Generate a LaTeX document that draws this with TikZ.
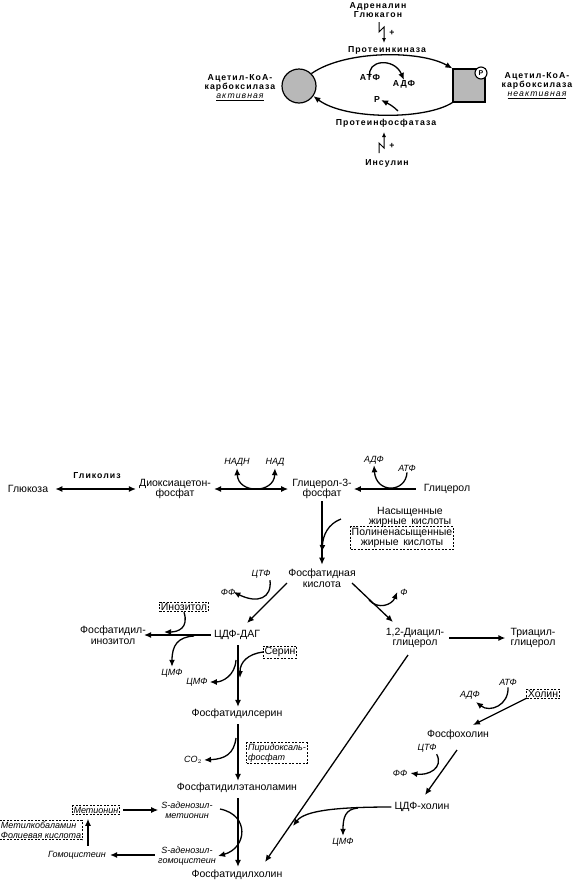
\documentclass[tikz,border=0pt]{standalone}
\usepackage{fontspec}
\setmainfont{Liberation Sans}
\newfontfamily\wideb[LetterSpace=12]{Liberation Sans}
\usetikzlibrary{arrows.meta}
\tikzset{
  lbl/.style={align=center, inner sep=0pt, font=\fontsize{10.5}{10.5}\selectfont},
  itl/.style={align=center, inner sep=0pt, font=\fontsize{9}{10}\selectfont\itshape},
  bt/.style={align=center, inner sep=0pt, font=\wideb\bfseries\fontsize{8.7}{9}\selectfont},
  ar/.style={line width=1.3pt, -{Latex[length=7pt,width=6pt]}},
  dar/.style={line width=1.3pt, {Latex[length=7pt,width=6pt]}-{Latex[length=7pt,width=6pt]}},
  dbox/.style={draw, dash pattern=on 2pt off 1.5pt, line width=0.8pt, inner sep=1.2pt},
  enz/.style={fill=black!28, draw, line width=1.2pt}
}
\begin{document}
\begin{tikzpicture}[x=1pt,y=-1pt]
\useasboundingbox (0,0) rectangle (573,884);
% ================= top diagram =================
\node[bt] (adr) at (378,10) {Адреналин\\Глюкагон};
\node[bt] (pk) at (387,50) {Протеинкиназа};
\node[bt] (pp) at (386,123) {Протеинфосфатаза};
\node[bt] (ins) at (387,163) {Инсулин};
\node[bt] (acl) at (240,88) {Ацетил-КоА-\\карбоксилаза\\{\mdseries\itshape\underline{активная}}};
\node[bt] (acr) at (537,86) {Ацетил-КоА-\\карбоксилаза\\{\mdseries\itshape\underline{неактивная}}};
\node[bt] (atp0) at (370,78) {АТФ};
\node[bt] (adp0) at (404,84) {АДФ};
\node[bt] (p0) at (377,100) {Р};
\node[enz, circle, minimum size=34pt, inner sep=0pt] (act) at (299,86) {};
\node[enz, rectangle, minimum width=32pt, minimum height=33pt, inner sep=0pt] (inact) at (469,85.5) {};
\node[circle, draw, fill=white, line width=1.1pt, minimum size=12pt, inner sep=0pt, font=\bfseries\fontsize{7}{7}\selectfont] (pc0) at (481,73) {P};
\node[bt] (plus1) at (392,33) {+};
\node[bt] (plus2) at (392,146) {+};
% lightning bolts
\coordinate (b1a) at (379,22); \coordinate (b1b) at (384,43);
\draw[line width=1pt, -{Latex[length=5pt,width=4pt]}] (b1a) -- (379,32) -- (384,27) -- (b1b);
\coordinate (b2a) at (379,153); \coordinate (b2b) at (384,132);
\draw[line width=1pt, -{Latex[length=5pt,width=4pt]}] (b2a) -- (379,143) -- (384,148) -- (b2b);
% arcs
\draw[ar] (act.45) .. controls (345,50) and (420,50) .. (inact.north west);
\draw[ar] (inact.south west) .. controls (425,120) and (345,120) .. (act.-35);
\draw[ar] ([yshift=-2pt]atp0.north) .. controls (366,60) and (394,57) .. (adp0.north);
\draw[ar] (398,111) .. controls (393,106) and (389,104) .. ([xshift=1pt]p0.east);
% ================= bottom diagram =================
\node[lbl] (glu) at (28,489) {Глюкоза};
\node[bt] (gly) at (97,476) {Гликолиз};
\node[lbl] (dhap) at (175,489) {Диоксиацетон-\\фосфат};
\node[lbl] (g3p) at (322,489) {Глицерол-3-\\фосфат};
\node[lbl] (glyc) at (447,489) {Глицерол};
\node[itl] (nadh) at (237,462) {НАДН};
\node[itl] (nad) at (275,462) {НАД};
\node[itl] (adp1) at (374,460) {АДФ};
\node[itl] (atp1) at (407,468) {АТФ};
\node[lbl] (sfa) at (410,517) {Насыщенные\\жирные\, кислоты};
\node[lbl, dbox] (pufa) at (402,538) {Полиненасыщенные\\жирные\, кислоты};
\node[lbl] (pa) at (322,578) {Фосфатидная\\кислота};
\node[itl] (ctp1) at (261,574) {ЦТФ};
\node[itl] (ff1) at (228,592) {ФФ};
\node[itl] (phi) at (404,592) {Ф};
\node[lbl] (cdpdag) at (237,635) {ЦДФ-ДАГ};
\node[lbl] (dag) at (415,638) {1,2-Диацил-\\глицерол};
\node[lbl] (tag) at (533,638) {Триацил-\\глицерол};
\node[lbl] (pi) at (113,635) {Фосфатидил-\\инозитол};
\node[lbl, dbox] (ino) at (184,607) {Инозитол};
\node[itl] (cmp1) at (172,673) {ЦМФ};
\node[itl] (cmp2) at (197,682) {ЦМФ};
\node[lbl, dbox] (ser) at (280,652) {Серин};
\node[lbl] (ps) at (237,714) {Фосфатидилсерин};
\node[itl] (co2) at (193,760) {CO$_2$};
\node[itl, dbox, align=left] (plp) at (277,753) {Пиридоксаль-\\фосфат\hspace*{2.2em}};
\node[lbl] (pe) at (237,788) {Фосфатидилэтаноламин};
\node[itl] (sam) at (187,810) {S-аденозил-\\метионин};
\node[itl] (sah) at (187,856) {S-аденозил-\\гомоцистеин};
\node[itl, dbox] (met) at (96,810) {Метионин};
\node[itl, dbox, align=left] (b12) at (41,830) {Метилкобаламин\\Фолиевая кислота};
\node[itl] (hcy) at (77,855) {Гомоцистеин};
\node[lbl] (pc) at (237,875) {Фосфатидилхолин};
\node[lbl, dbox] (chol) at (543,694) {Холин};
\node[itl] (atp2) at (508,682) {АТФ};
\node[itl] (adp2) at (470,695) {АДФ};
\node[lbl] (pcho) at (458,735) {Фосфохолин};
\node[itl] (ctp2) at (427,748) {ЦТФ};
\node[itl] (ff2) at (400,773) {ФФ};
\node[lbl] (cdpcho) at (422,807) {ЦДФ-холин};
\node[itl] (cmp3) at (343,842) {ЦМФ};
% --- connectors ---
\draw[dar] ([xshift=7pt]glu.east) -- ([xshift=-3pt]dhap.west);
\draw[dar] ([xshift=3pt]dhap.east) -- ([xshift=-4pt]g3p.west);
\draw[dar] ([yshift=-2pt]nadh.south) .. controls (238,494) and (274,494) .. ([yshift=-2pt]nad.south);
\draw[ar] ([xshift=-8pt]glyc.west) -- ([xshift=2pt]g3p.east);
\draw[ar] ([yshift=-1pt]atp1.south) .. controls (406,493) and (376,494) .. ([yshift=-1pt]adp1.south);
\draw[ar] ([yshift=-2pt]g3p.south) -- ([yshift=4pt]pa.north);
\coordinate (sfa0) at (341,519);
\draw[ar] (sfa0) .. controls (328,524) and (323,535) .. (322,552);
% PA -> CDP-DAG
\coordinate (pa1) at (287,583); \coordinate (cd1) at (247,623);
\draw[ar] (pa1) -- (cd1);
\draw[ar] ([yshift=-2pt]ctp1.south -| 270,0) .. controls (272,598) and (258,604) .. ([xshift=-2pt]ff1.east);
% PA -> DAG
\coordinate (pa2) at (352,583); \coordinate (dg1) at (393,622);
\draw[ar] (pa2) -- (dg1);
\draw[ar] (369,600) .. controls (378,610) and (392,605) .. ([xshift=-3pt]phi.west);
% CDP-DAG -> PI
\draw[ar] ([xshift=-3pt]cdpdag.west) -- ([xshift=-2pt]pi.east |- cdpdag.west);
\draw[ar] (ino.south) .. controls (189,628) and (178,632) .. (164,632);
\draw[ar] (194,636) .. controls (178,637) and (172,645) .. ([yshift=2pt]cmp1.north);
% CDP-DAG -> PS
\draw[ar] (238,645) -- ([yshift=2pt]ps.north -| 238,0);
\draw[ar] (ser.west) .. controls (248,654) and (240,662) .. (240,678);
\draw[ar] (236,660) .. controls (235,676) and (222,682) .. ([xshift=2pt]cmp2.east);
% PS -> PE
\draw[ar] (238,724) -- ([yshift=2pt]pe.north -| 238,0);
\draw[ar] (236,738) .. controls (234,754) and (225,759) .. ([xshift=2pt]co2.east);
% PE -> PC
\draw[ar] (238,798) -- ([yshift=3pt]pc.north -| 238,0);
\coordinate (sam1) at (220,809);
\draw[ar] (sam1) .. controls (250,815) and (247,848) .. ([xshift=2pt]sah.east);
\draw[ar] ([xshift=3pt]met.east) -- ([xshift=-3pt]sam.west |- met.east);
\draw[ar] ([yshift=5pt]hcy.north -| 88,0) -- ([yshift=-4pt]met.south -| 88,0);
\draw[ar] ([xshift=-3pt]sah.west |- hcy.east) -- ([xshift=4pt]hcy.east);
% DAG -> TAG, DAG -> PC
\draw[ar] ([xshift=5pt]dag.east) -- ([xshift=-5pt]tag.west);
\coordinate (dg2) at (408,655); \coordinate (pcj) at (265,862);
\draw[ar] (dg2) -- (pcj);
% choline branch
\coordinate (ch1) at (527,698); \coordinate (ph1) at (473,725);
\draw[ar] (ch1) -- (ph1);
\draw[ar] ([yshift=-2pt]atp2.south) .. controls (509,705) and (490,713) .. (476,702);
\coordinate (ph2) at (457,750); \coordinate (cc1) at (425,795);
\draw[ar] (ph2) -- (cc1);
\draw[ar] ([yshift=-2pt]ctp2.south east) .. controls (444,768) and (428,776) .. ([xshift=3pt]ff2.east);
\draw[ar] ([xshift=-3pt]cdpcho.west) .. controls (340,807) and (305,810) .. (293,826);
\draw[ar] (358,808) .. controls (345,809) and (343,818) .. ([yshift=2pt]cmp3.north);
\end{tikzpicture}
\end{document}
